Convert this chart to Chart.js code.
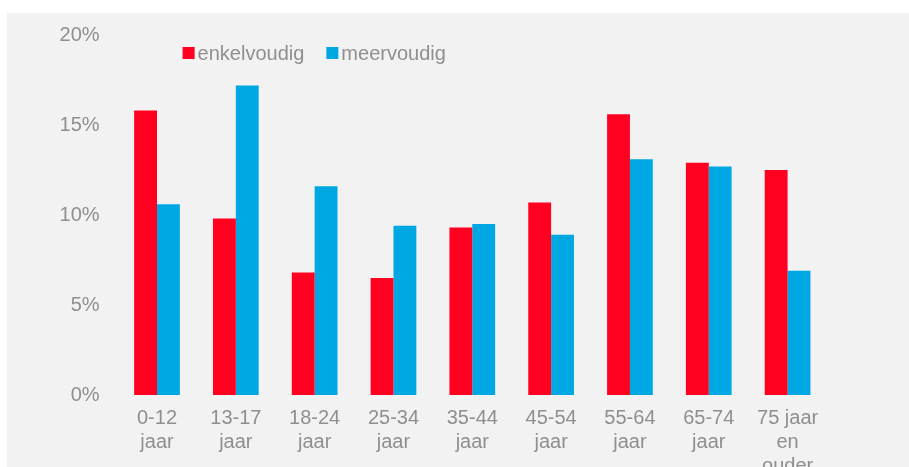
<!DOCTYPE html>
<html>
<head>
<meta charset="utf-8">
<script src="https://cdn.jsdelivr.net/npm/chart.js@4"></script>
<style>
  html, body { margin: 0; padding: 0; background: #fff; overflow: hidden; }
  #wrap { position: absolute; left: 7px; top: 13px; width: 902px; height: 454px; background: #f2f2f2; }
</style>
</head>
<body>
<div id="wrap"><canvas id="bar-chart"></canvas></div>
<script>
var label_values = [["0-12","jaar"],["13-17","jaar"],["18-24","jaar"],["25-34","jaar"],["35-44","jaar"],["45-54","jaar"],["55-64","jaar"],["65-74","jaar"],["75 jaar","en","ouder"]];
var enkel_data = [15.8, 9.8, 6.8, 6.5, 9.3, 10.7, 15.6, 12.9, 12.5];
var meer_data = [10.6, 17.2, 11.6, 9.4, 9.5, 8.9, 13.1, 12.7, 6.9];
var series_names = ["enkelvoudig", "meervoudig"];
var tick_values = [0, 5, 10, 15, 20];

var redColor = "#ff0020";
var blueColor = "#00a8e3";
var textColor = "#8f8f8f";
var fontFamily = "'Liberation Sans', Arial, sans-serif";

// legend drawn in the top left of the plot, like the original
var legendPlugin = {
  id: "topLegend",
  afterDraw: function(chart) {
    var ctx = chart.ctx;
    var x = chart.chartArea.left + 65;
    var y = chart.chartArea.top + 18;
    ctx.save();
    ctx.font = "20px " + fontFamily;
    ctx.textBaseline = "middle";
    chart.data.datasets.forEach(function(ds) {
      ctx.fillStyle = ds.backgroundColor;
      ctx.fillRect(x, y - 6, 12, 12);
      ctx.fillStyle = textColor;
      ctx.fillText(ds.label, x + 15, y + 1);
      x += 15 + ctx.measureText(ds.label).width + 22;
    });
    ctx.restore();
  }
};

new Chart("bar-chart", {
  type: "bar",
  data: {
    labels: label_values,
    datasets: [{
      label: series_names[0],
      backgroundColor: redColor,
      data: enkel_data
    }, {
      label: series_names[1],
      backgroundColor: blueColor,
      data: meer_data
    }]
  },
  plugins: [legendPlugin],
  options: {
    responsive: true,
    maintainAspectRatio: false,
    animation: false,
    layout: { padding: { top: 22, right: 82, left: 0, bottom: 0 } },
    datasets: {
      bar: { barPercentage: 1, categoryPercentage: 0.58 }
    },
    plugins: {
      legend: { display: false },
      tooltip: { enabled: false }
    },
    scales: {
      x: {
        grid: { display: false, drawTicks: false },
        border: { display: false },
        ticks: {
          color: textColor,
          font: { family: fontFamily, size: 20, lineHeight: 1.2 },
          padding: 11,
          autoSkip: false,
          maxRotation: 0
        },
        afterFit: function(scale) {
          scale.height = 72;
          scale.paddingLeft = 0;
          scale.paddingRight = 0;
        }
      },
      y: {
        min: 0,
        max: 20,
        grid: { display: false, drawTicks: false },
        border: { display: false },
        afterBuildTicks: function(scale) {
          scale.ticks = tick_values.map(function(v) { return { value: v }; });
        },
        ticks: {
          color: textColor,
          font: { family: fontFamily, size: 20 },
          padding: 18,
          callback: function(v) { return v + "%"; }
        },
        afterFit: function(scale) {
          scale.width = 110.6;
          scale.paddingTop = 0;
          scale.paddingBottom = 0;
        }
      }
    }
  }
});
</script>
</body>
</html>
